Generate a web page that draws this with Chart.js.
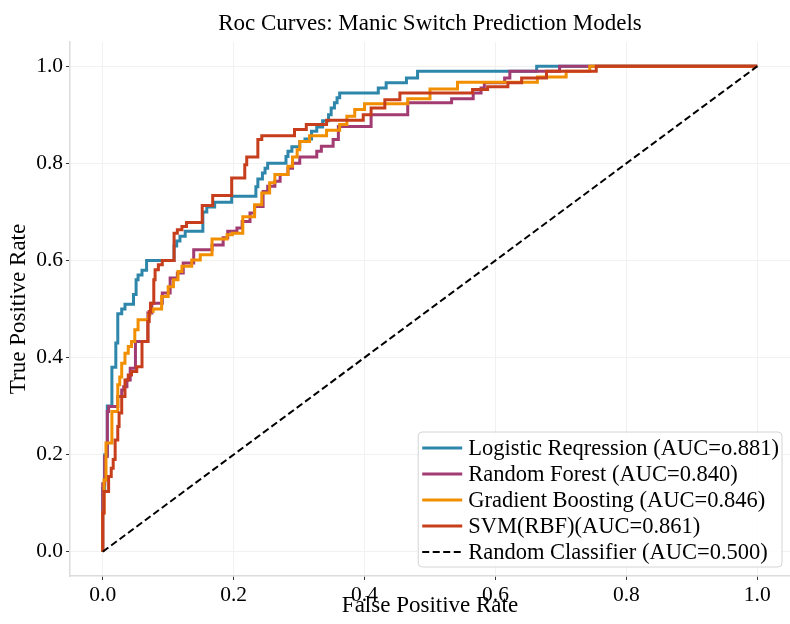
<!DOCTYPE html>
<html>
<head>
<meta charset="utf-8">
<script src="https://cdn.jsdelivr.net/npm/chart.js@4.4.1/dist/chart.umd.min.js"></script>
<style>
  html, body { margin: 0; padding: 0; background: #ffffff; }
  canvas { display: block; }
</style>
</head>
<body>
<canvas id="roc" width="790" height="624"></canvas>
<script>
// ROC points (false positive rate, true positive rate) per model
const lrFpr = [0, 0, 0.003, 0.007, 0.014, 0.020, 0.023, 0.029, 0.034, 0.047, 0.051, 0.054, 0.060, 0.067, 0.109, 0.113, 0.118, 0.126, 0.153, 0.159, 0.171, 0.197, 0.234, 0.237, 0.244, 0.248, 0.252, 0.280, 0.283, 0.289, 0.301, 0.309, 0.319, 0.327, 0.336, 0.345, 0.349, 0.354, 0.358, 0.362, 0.421, 0.433, 0.464, 0.481, 0.663, 1.0];
const lrTpr = [0, 0.13, 0.20, 0.30, 0.38, 0.43, 0.49, 0.50, 0.51, 0.53, 0.56, 0.57, 0.58, 0.60, 0.63, 0.64, 0.65, 0.66, 0.70, 0.71, 0.72, 0.732, 0.752, 0.768, 0.78, 0.79, 0.80, 0.814, 0.825, 0.834, 0.845, 0.85, 0.866, 0.875, 0.888, 0.90, 0.914, 0.925, 0.935, 0.945, 0.955, 0.966, 0.976, 0.99, 1.0, 1.0];

const rfFpr = [0, 0, 0.003, 0.007, 0.009, 0.023, 0.029, 0.032, 0.037, 0.042, 0.050, 0.069, 0.075, 0.091, 0.103, 0.114, 0.123, 0.139, 0.167, 0.184, 0.191, 0.205, 0.213, 0.225, 0.232, 0.245, 0.252, 0.263, 0.271, 0.283, 0.290, 0.301, 0.327, 0.334, 0.352, 0.360, 0.410, 0.466, 0.533, 0.566, 0.578, 0.583, 0.614, 0.622, 0.698, 1.0];
const rfTpr = [0, 0.14, 0.196, 0.289, 0.299, 0.32, 0.333, 0.34, 0.354, 0.378, 0.433, 0.492, 0.512, 0.533, 0.564, 0.574, 0.595, 0.622, 0.632, 0.647, 0.66, 0.667, 0.68, 0.698, 0.711, 0.742, 0.753, 0.763, 0.777, 0.79, 0.80, 0.813, 0.825, 0.835, 0.849, 0.876, 0.90, 0.925, 0.933, 0.945, 0.955, 0.966, 0.976, 0.99, 1.0, 1.0];

const gbFpr = [0, 0, 0.002, 0.005, 0.014, 0.023, 0.026, 0.029, 0.034, 0.039, 0.044, 0.049, 0.054, 0.070, 0.072, 0.077, 0.090, 0.100, 0.108, 0.115, 0.121, 0.136, 0.149, 0.167, 0.190, 0.198, 0.214, 0.232, 0.243, 0.255, 0.263, 0.283, 0.290, 0.297, 0.301, 0.316, 0.342, 0.362, 0.373, 0.385, 0.400, 0.466, 0.500, 0.542, 0.664, 0.708, 0.744, 1.0];
const gbTpr = [0, 0.08, 0.148, 0.224, 0.289, 0.344, 0.36, 0.388, 0.409, 0.423, 0.433, 0.457, 0.478, 0.488, 0.495, 0.50, 0.526, 0.546, 0.56, 0.577, 0.588, 0.601, 0.612, 0.644, 0.653, 0.656, 0.69, 0.715, 0.739, 0.76, 0.777, 0.794, 0.813, 0.828, 0.845, 0.857, 0.868, 0.88, 0.897, 0.911, 0.923, 0.933, 0.953, 0.967, 0.978, 0.99, 1.0, 1.0];

const svmFpr = [0, 0, 0.002, 0.009, 0.013, 0.016, 0.019, 0.023, 0.025, 0.029, 0.034, 0.039, 0.044, 0.052, 0.060, 0.069, 0.071, 0.073, 0.078, 0.080, 0.085, 0.091, 0.109, 0.114, 0.121, 0.128, 0.152, 0.168, 0.197, 0.217, 0.220, 0.237, 0.243, 0.293, 0.311, 0.342, 0.398, 0.410, 0.431, 0.454, 0.565, 0.588, 0.619, 0.640, 0.678, 0.754, 1.0];
const svmTpr = [0, 0.08, 0.124, 0.155, 0.172, 0.19, 0.23, 0.258, 0.286, 0.32, 0.354, 0.364, 0.371, 0.381, 0.433, 0.474, 0.495, 0.512, 0.56, 0.581, 0.591, 0.60, 0.656, 0.663, 0.67, 0.678, 0.713, 0.734, 0.77, 0.797, 0.813, 0.849, 0.857, 0.87, 0.88, 0.889, 0.90, 0.914, 0.931, 0.945, 0.952, 0.958, 0.966, 0.976, 0.99, 1.0, 1.0];

const chanceFpr = [0, 1];
const chanceTpr = [0, 1];

const seriesLabels = [
  'Logistic Reqression (AUC=o.881)',
  'Random Forest (AUC=0.840)',
  'Gradient Boosting (AUC=0.846)',
  'SVM(RBF)(AUC=0.861)',
  'Random Classifier (AUC=0.500)'
];
const tickValues = [0.0, 0.2, 0.4, 0.6, 0.8, 1.0];

const SERIF = '"Liberation Serif", "Times New Roman", serif';
const toPoints = (xs, ys) => xs.map((x, i) => ({ x, y: ys[i] }));

function curve(label, xs, ys, color, order) {
  return {
    label, data: toPoints(xs, ys), borderColor: color, backgroundColor: color,
    borderWidth: 3, stepped: 'before', pointRadius: 0, showLine: true,
    fill: false, order, borderCapStyle: 'butt', borderJoinStyle: 'miter'
  };
}

// Legend drawn inside the plot, lower right
const legendBox = {
  id: 'legendBox',
  afterDatasetsDraw(chart) {
    const { ctx, chartArea } = chart;
    const items = chart.data.datasets;
    ctx.save();
    ctx.font = '22.5px ' + SERIF;
    const rowH = 26;
    const textW = Math.max(...items.map(d => ctx.measureText(d.label).width));
    const w = 4 + 40 + 6 + textW + 3;
    const h = items.length * rowH + 5;
    const right = chartArea.right - 8;
    const bottom = chartArea.bottom - 9;
    const left = right - w;
    const top = bottom - h;
    ctx.beginPath();
    ctx.roundRect(left, top, w, h, 4);
    ctx.fillStyle = 'rgba(255,255,255,0.85)';
    ctx.fill();
    ctx.lineWidth = 1;
    ctx.strokeStyle = '#d4d4d4';
    ctx.stroke();
    items.forEach((d, i) => {
      const y = top + 16 + i * rowH;
      ctx.beginPath();
      ctx.setLineDash(d.borderDash || []);
      ctx.lineWidth = d.borderWidth;
      ctx.strokeStyle = d.borderColor;
      ctx.moveTo(left + 4, y);
      ctx.lineTo(left + 44, y);
      ctx.stroke();
      ctx.setLineDash([]);
      ctx.fillStyle = '#000000';
      ctx.textBaseline = 'middle';
      ctx.textAlign = 'left';
      ctx.fillText(d.label, left + 50, y + 1);
    });
    ctx.restore();
  }
};

const axisTicks = s => { s.ticks = tickValues.map(v => ({ value: v })); };

new Chart(document.getElementById('roc'), {
  type: 'scatter',
  data: {
    datasets: [
      curve(seriesLabels[0], lrFpr, lrTpr, '#2E86AB', 5),
      curve(seriesLabels[1], rfFpr, rfTpr, '#A23B72', 4),
      curve(seriesLabels[2], gbFpr, gbTpr, '#F18F01', 3),
      curve(seriesLabels[3], svmFpr, svmTpr, '#C73E1D', 2),
      {
        label: seriesLabels[4], data: toPoints(chanceFpr, chanceTpr),
        borderColor: '#000000', backgroundColor: '#000000', borderWidth: 2,
        borderDash: [7, 3.5], pointRadius: 0, showLine: true, fill: false, order: 1
      }
    ]
  },
  options: {
    responsive: false,
    animation: false,
    devicePixelRatio: 1,
    layout: { padding: 0 },
    plugins: {
      legend: { display: false },
      tooltip: { enabled: false },
      title: {
        display: true,
        fullSize: false,
        text: 'Roc Curves: Manic Switch Prediction Models',
        color: '#000000',
        font: { family: SERIF, size: 23, weight: 'normal' },
        padding: { top: 10, bottom: 4.4 }
      }
    },
    scales: {
      x: {
        type: 'linear', min: -0.05, max: 1.05,
        afterBuildTicks: axisTicks,
        afterFit: s => { s.height = 48; },
        ticks: { color: '#000000', font: { family: SERIF, size: 21.5 }, padding: 2, maxRotation: 0,
                 callback: v => Number(v).toFixed(1) },
        grid: { color: '#f1f1f1', lineWidth: 1, tickLength: 4, tickColor: '#333333', tickWidth: 1 },
        border: { color: '#dcdcdc', width: 1.5 },
        title: { display: true, text: 'False Positive Rate', color: '#000000',
                 font: { family: SERIF, size: 23 }, padding: { top: 0, bottom: 4 } }
      },
      y: {
        type: 'linear', min: -0.05, max: 1.05,
        afterBuildTicks: axisTicks,
        afterFit: s => { s.width = 70; },
        ticks: { color: '#000000', font: { family: SERIF, size: 21.5 }, padding: 3,
                 callback: v => Number(v).toFixed(1) },
        grid: { color: '#f1f1f1', lineWidth: 1, tickLength: 4, tickColor: '#333333', tickWidth: 1 },
        border: { color: '#dcdcdc', width: 1.5 },
        title: { display: true, text: 'True Positive Rate', color: '#000000',
                 font: { family: SERIF, size: 23 }, padding: { top: 5, bottom: 0 } }
      }
    }
  },
  plugins: [legendBox]
});
</script>
</body>
</html>
